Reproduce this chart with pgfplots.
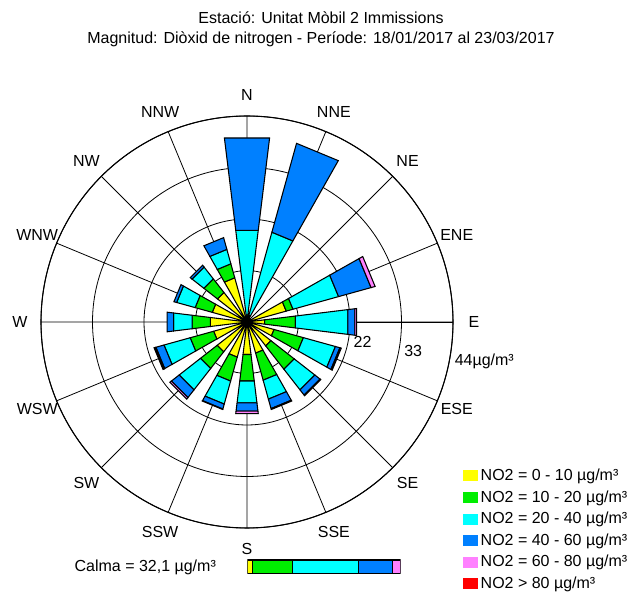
\documentclass[border=0pt]{standalone}
\usepackage{fontspec}
\setmainfont{Liberation Sans}
\usepackage{pgfplots}
\pgfplotsset{compat=1.18}
\usepgfplotslibrary{polar}

\definecolor{cyel}{RGB}{255,255,0}
\definecolor{cgre}{RGB}{0,238,0}
\definecolor{ccya}{RGB}{0,255,255}
\definecolor{cblu}{RGB}{0,128,255}
\definecolor{cpin}{RGB}{255,128,255}
\definecolor{cred}{RGB}{255,0,0}

\pgfplotsset{
  petal/.style={draw=black, line width=0.8pt, empty line=jump, fill=#1},
  swatch/.style={legend image code/.code={\fill[##1, draw=none] (0pt,-4.1pt) rectangle (11.25pt,4.1pt);}},
}

\begin{document}
\fontsize{12pt}{14pt}\selectfont
\begin{tikzpicture}
\path[use as bounding box] (0,0) rectangle (474pt,446.25pt);

\node at (240.75pt,433pt) {Estació: Unitat Mòbil 2 Immissions};
\node at (240.75pt,417pt) {Magnitud: Diòxid de nitrogen - Període: 18/01/2017 al 23/03/2017};

\begin{polaraxis}[
  at={(185.25pt,204.75pt)}, anchor=center,
  width=309pt, height=309pt, scale only axis,
  xmin=0, xmax=360, ymin=0, ymax=44,
  xtick={0,22.5,...,337.5}, xticklabels={},
  ytick={11,22,33,44}, yticklabels={},
  grid=major, major grid style={black, line width=0.6pt},
  x axis line style={black, line width=0.8pt},
  y axis line style={black, line width=0.7pt},
  major tick length=0pt,
  clip=false,
  swatch,
  legend style={at={(axis description cs:1.014,0.157)}, anchor=north west,
    draw=none, fill=none, row sep=1.7pt, legend cell align=left},
]
% compass names
\node at (axis cs:90,48.5) {N};
\node at (axis cs:67.5,48.5) {NNE};
\node at (axis cs:45,48.5) {NE};
\node at (axis cs:22.5,48.5) {ENE};
\node at (axis cs:0,48.5) {E};
\node at (axis cs:337.5,48.5) {ESE};
\node at (axis cs:315,48.5) {SE};
\node at (axis cs:292.5,48.5) {SSE};
\node at (axis cs:270,48.5) {S};
\node at (axis cs:247.5,48.5) {SSW};
\node at (axis cs:225,48.5) {SW};
\node at (axis cs:202.5,48.5) {WSW};
\node at (axis cs:180,48.5) {W};
\node at (axis cs:157.5,48.5) {WNW};
\node at (axis cs:135,48.5) {NW};
\node at (axis cs:112.5,48.5) {NNW};

% 0 - 10
\addplot[petal=cyel] table {
83 0
97 0
97 1.0
83 1.0
83 0

60.5 0
74.5 0
74.5 1.0
60.5 1.0
60.5 0

15.5 0
29.5 0
29.5 8.7
15.5 8.7
15.5 0

-7 0
7 0
7 3.8
-7 3.8
-7 0

330.5 0
344.5 0
344.5 6.0
330.5 6.0
330.5 0

308 0
322 0
322 6.5
308 6.5
308 0

285.5 0
299.5 0
299.5 6.9
285.5 6.9
285.5 0

263 0
277 0
277 7.0
263 7.0
263 0

240.5 0
254.5 0
254.5 7.8
240.5 7.8
240.5 0

218 0
232 0
232 8.1
218 8.1
218 0

195.5 0
209.5 0
209.5 7.4
195.5 7.4
195.5 0

173 0
187 0
187 7.9
173 7.9
173 0

150.5 0
164.5 0
164.5 7.7
150.5 7.7
150.5 0

128 0
142 0
142 8.0
128 8.0
128 0

105.5 0
119.5 0
119.5 9.8
105.5 9.8
105.5 0
};
\addlegendentry{NO2 = 0 - 10 µg/m³}

% 10 - 20
\addplot[petal=cgre] table {
83 1.0
97 1.0
97 1.5
83 1.5
83 1.0

60.5 1.0
74.5 1.0
74.5 1.5
60.5 1.5
60.5 1.0

15.5 8.7
29.5 8.7
29.5 10.2
15.5 10.2
15.5 8.7

-7 3.8
7 3.8
7 10.4
-7 10.4
-7 3.8

330.5 6.0
344.5 6.0
344.5 12.5
330.5 12.5
330.5 6.0

308 6.5
322 6.5
322 12.8
308 12.8
308 6.5

285.5 6.9
299.5 6.9
299.5 12.9
285.5 12.9
285.5 6.9

263 7.0
277 7.0
277 12.7
263 12.7
263 7.0

240.5 7.8
254.5 7.8
254.5 13.1
240.5 13.1
240.5 7.8

218 8.1
232 8.1
232 12.6
218 12.6
218 8.1

195.5 7.4
209.5 7.4
209.5 12.6
195.5 12.6
195.5 7.4

173 7.9
187 7.9
187 11.8
173 11.8
173 7.9

150.5 7.7
164.5 7.7
164.5 11.5
150.5 11.5
150.5 7.7

128 8.0
142 8.0
142 11.7
128 11.7
128 8.0

105.5 9.8
119.5 9.8
119.5 12.9
105.5 12.9
105.5 9.8
};
\addlegendentry{NO2 = 10 - 20 µg/m³}

% 20 - 40
\addplot[petal=ccya] table {
83 1.5
97 1.5
97 19.7
83 19.7
83 1.5

60.5 1.5
74.5 1.5
74.5 19.9
60.5 19.9
60.5 1.5

15.5 10.2
29.5 10.2
29.5 20.3
15.5 20.3
15.5 10.2

-7 10.4
7 10.4
7 21.7
-7 21.7
-7 10.4

330.5 12.5
344.5 12.5
344.5 19.6
330.5 19.6
330.5 12.5

308 12.8
322 12.8
322 18.4
308 18.4
308 12.8

285.5 12.9
299.5 12.9
299.5 17.1
285.5 17.1
285.5 12.9

263 12.7
277 12.7
277 17.4
263 17.4
263 12.7

240.5 13.1
254.5 13.1
254.5 18.2
240.5 18.2
240.5 13.1

218 12.6
232 12.6
232 18.4
218 18.4
218 12.6

195.5 12.6
209.5 12.6
209.5 18.4
195.5 18.4
195.5 12.6

173 11.8
187 11.8
187 15.8
173 15.8
173 11.8

150.5 11.5
164.5 11.5
164.5 15.6
150.5 15.6
150.5 11.5

128 11.7
142 11.7
142 14.9
128 14.9
128 11.7

105.5 12.9
119.5 12.9
119.5 16.1
105.5 16.1
105.5 12.9
};
\addlegendentry{NO2 = 20 - 40 µg/m³}

% 40 - 60
\addplot[petal=cblu] table {
83 19.7
97 19.7
97 39.6
83 39.6
83 19.7

60.5 19.9
74.5 19.9
74.5 39.6
60.5 39.6
60.5 19.9

15.5 20.3
29.5 20.3
29.5 27.5
15.5 27.5
15.5 20.3

-7 21.7
7 21.7
7 23.2
-7 23.2
-7 21.7

330.5 19.6
344.5 19.6
344.5 20.6
330.5 20.6
330.5 19.6

308 18.4
322 18.4
322 19.8
308 19.8
308 18.4

285.5 17.1
299.5 17.1
299.5 19.2
285.5 19.2
285.5 17.1

263 17.4
277 17.4
277 19.2
263 19.2
263 17.4

240.5 18.2
254.5 18.2
254.5 19.3
240.5 19.3
240.5 18.2

218 18.4
232 18.4
232 20.5
218 20.5
218 18.4

195.5 18.4
209.5 18.4
209.5 20.2
195.5 20.2
195.5 18.4

173 15.8
187 15.8
187 17.2
173 17.2
173 15.8

150.5 15.6
164.5 15.6
164.5 16.2
150.5 16.2
150.5 15.6

128 14.9
142 14.9
142 15.4
128 15.4
128 14.9

105.5 16.1
119.5 16.1
119.5 18.7
105.5 18.7
105.5 16.1
};
\addlegendentry{NO2 = 40 - 60 µg/m³}

% 60 - 80
\addplot[petal=cpin] table {
15.5 27.5
29.5 27.5
29.5 28.4
15.5 28.4
15.5 27.5

-7 23.2
7 23.2
7 23.6
-7 23.6
-7 23.2

330.5 20.6
344.5 20.6
344.5 20.9
330.5 20.9
330.5 20.6

308 19.8
322 19.8
322 20.0
308 20.0
308 19.8

285.5 19.2
299.5 19.2
299.5 19.4
285.5 19.4
285.5 19.2

263 19.2
277 19.2
277 19.7
263 19.7
263 19.2

240.5 19.3
254.5 19.3
254.5 19.4
240.5 19.4
240.5 19.3

218 20.5
232 20.5
232 20.9
218 20.9
218 20.5

195.5 20.2
209.5 20.2
209.5 20.4
195.5 20.4
195.5 20.2
};
\addlegendentry{NO2 = 60 - 80 µg/m³}

% > 80
\addplot[petal=cred] table {
195.5 20.4
209.5 20.4
209.5 20.6
195.5 20.6
195.5 20.4
};
\addlegendentry{NO2 > 80 µg/m³}

% hub where the petal outlines meet
\addplot[only marks, mark=*, mark size=3.5pt, black, forget plot] coordinates {(0,0)};

% radial scale labels
\node[anchor=west] at (axis cs:-11,22) {22};
\node[anchor=west] at (axis cs:-11,33) {33};
\node[anchor=west] at (axis cs:-11,44) {44µg/m³};
\end{polaraxis}

\node[anchor=west] at (51.75pt,21pt) {Calma = 32,1 µg/m³};

\begin{axis}[
  at={(185.5pt,16.25pt)}, anchor=south west,
  width=114.9pt, height=10pt, scale only axis,
  xmin=0, xmax=153.2, ymin=0, ymax=1,
  hide axis, xbar stacked, bar width=1,
]
\addplot[fill=cyel, draw=black, line width=0.8pt] coordinates {(5,0.5)};
\addplot[fill=cgre, draw=black, line width=0.8pt] coordinates {(40.2,0.5)};
\addplot[fill=ccya, draw=black, line width=0.8pt] coordinates {(66,0.5)};
\addplot[fill=cblu, draw=black, line width=0.8pt] coordinates {(33.5,0.5)};
\addplot[fill=cpin, draw=black, line width=0.8pt] coordinates {(8.5,0.5)};
\end{axis}
\end{tikzpicture}
\end{document}
